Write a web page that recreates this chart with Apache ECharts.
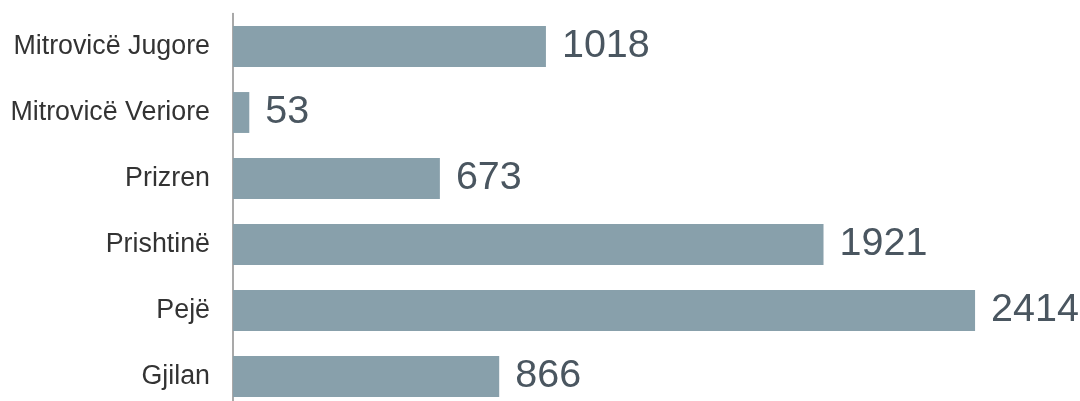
<!DOCTYPE html>
<html>
<head>
<meta charset="utf-8">
<script src="https://cdn.jsdelivr.net/npm/echarts@6/dist/echarts.min.js"></script>
<style>html,body{margin:0;padding:0;background:#fff;}#c{width:1080px;height:401px;}</style>
</head>
<body>
<div id="c"></div>
<script>
const categories = ["Mitrovicë Jugore", "Mitrovicë Veriore", "Prizren", "Prishtinë", "Pejë", "Gjilan"];
const values = [1018, 53, 673, 1921, 2414, 866];

const chart = echarts.init(document.getElementById('c'), null, {renderer: 'canvas'});
chart.setOption({
  animation: false,
  grid: {left: 233, width: 768.5, top: 13.5, height: 396, containLabel: false, outerBoundsMode: 'none'},
  xAxis: {
    type: 'value', min: 0, max: 2500, show: false
  },
  yAxis: {
    type: 'category', data: categories, inverse: true,
    axisLine: {show: true, lineStyle: {color: '#8c8c8c', width: 1.5}},
    axisTick: {show: false},
    splitLine: {show: false},
    axisLabel: {color: '#333', fontSize: 26.8, margin: 23, fontFamily: 'Liberation Sans, Arial, sans-serif'}
  },
  series: [{
    type: 'bar', data: values, barCategoryGap: '38%',
    itemStyle: {color: '#88a0ab'},
    label: {show: true, position: 'right', distance: 16, color: '#4a5660', fontSize: 39.5, fontFamily: 'Liberation Sans, Arial, sans-serif'}
  }]
});
</script>
</body>
</html>
